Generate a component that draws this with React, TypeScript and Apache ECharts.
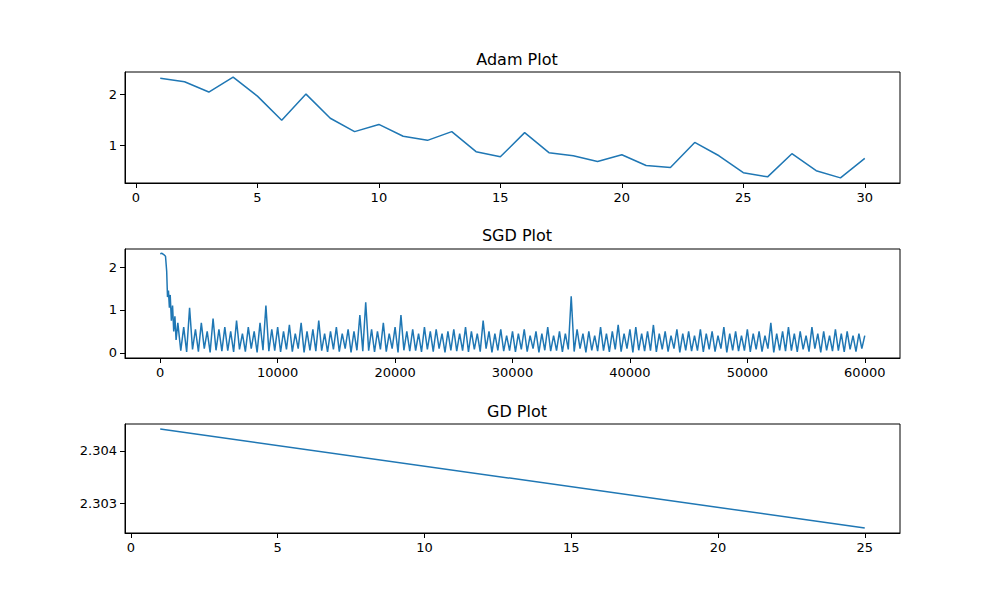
import { useEffect, useRef } from 'react';
import * as echarts from 'echarts';

const adamEpochs = Array.from({ length: 30 }, (_, i) => i + 1);
const adamLoss = [
  2.31, 2.24, 2.04, 2.33, 1.96, 1.49, 2.0, 1.53, 1.27, 1.41, 1.18, 1.1, 1.27, 0.88, 0.78,
  1.25, 0.86, 0.8, 0.69, 0.82, 0.61, 0.57, 1.06, 0.8, 0.47, 0.39, 0.84, 0.51, 0.37, 0.75,
];

// first steps of SGD, read point by point
const sgdStart: [number, number][] = [
  [0, 2.31], [150, 2.32], [300, 2.29], [450, 2.25], [550, 1.9], [620, 1.3], [700, 1.45],
  [780, 1.05], [850, 1.35], [950, 0.75], [1050, 1.1], [1150, 0.5], [1250, 0.85], [1350, 0.3],
];
// SGD spikes every 500 steps from 1500, with a trough after each
const sgdPeakStart = 1500;
const sgdPeakStep = 500;
const sgdPeaks = [
  0.7, 0.6, 1.05, 0.55, 0.7, 0.5, 0.8, 0.55, 0.6, 0.5, 0.75, 0.45, 0.6, 0.5, 0.7, 1.1,
  0.55, 0.6, 0.5, 0.65, 0.45, 0.7, 0.5, 0.55, 0.75, 0.45, 0.5, 0.6, 0.45, 0.55, 0.5, 0.88,
  1.18, 0.55, 0.5, 0.7, 0.45, 0.6, 0.88, 0.5, 0.55, 0.45, 0.6, 0.5, 0.55, 0.45, 0.5, 0.55,
  0.45, 0.6, 0.5, 0.45, 0.75, 0.5, 0.45, 0.55, 0.4, 0.5, 0.45, 0.55, 0.4, 0.5, 0.45, 0.6,
  0.4, 0.5, 0.45, 1.32, 0.55, 0.45, 0.5, 0.4, 0.6, 0.45, 0.5, 0.65, 0.45, 0.55, 0.6, 0.45,
  0.5, 0.65, 0.45, 0.5, 0.4, 0.55, 0.45, 0.5, 0.4, 0.55, 0.45, 0.5, 0.4, 0.6, 0.45, 0.5,
  0.4, 0.55, 0.45, 0.5, 0.4, 0.7, 0.45, 0.5, 0.6, 0.45, 0.5, 0.4, 0.6, 0.45, 0.5, 0.4,
  0.55, 0.45, 0.5, 0.4, 0.45, 0.4, 0.45,
];
const sgdTroughs = [0.05, 0.02, 0.08, 0.03, 0.1, 0.01, 0.06, 0.04];
const sgdLastStep = 60000;

const gdEpochs = [1, 25];
const gdLoss = [2.30442, 2.30253];

const blue = '#1f77b4';
const font = "'DejaVu Sans', sans-serif";

export default function App() {
  const ref = useRef<HTMLDivElement>(null);

  useEffect(() => {
    if (!ref.current) return;
    const chart = echarts.init(ref.current, null, { renderer: 'svg' });

    const sgdData: [number, number][] = [...sgdStart];
    sgdPeaks.forEach((p, i) => {
      const x = sgdPeakStart + i * sgdPeakStep;
      if (x <= sgdLastStep) sgdData.push([x, p]);
      const tx = x + sgdPeakStep / 2;
      if (tx <= sgdLastStep) sgdData.push([tx, sgdTroughs[i % sgdTroughs.length]]);
    });

    const grids = [
      { top: 72, height: 111 },
      { top: 249, height: 109 },
      { top: 424, height: 109 },
    ].map((g) => ({
      left: 125,
      width: 775,
      ...g,
      show: true,
      borderColor: '#000',
      borderWidth: 1,
    }));

    const axisBase = (gridIndex: number, min: number, max: number, ticks: number[], fmt?: (v: number) => string) => ({
      type: 'value',
      gridIndex,
      min,
      max,
      splitLine: { show: false },
      axisLine: { show: true, onZero: false, lineStyle: { color: '#000', width: 1 } },
      axisTick: { show: true, inside: false, length: 5, customValues: ticks, lineStyle: { color: '#000' } },
      axisLabel: {
        customValues: ticks,
        color: '#000',
        fontSize: 13,
        fontFamily: font,
        formatter: fmt ?? ((v: number) => String(v)),
      },
    });

    const titles = ['Adam Plot', 'SGD Plot', 'GD Plot'].map((t, i) => ({
      text: t,
      left: 512,
      textAlign: 'center',
      top: [46, 222, 398][i],
      textStyle: { fontSize: 16, fontWeight: 'normal', color: '#000', fontFamily: font },
    }));

    const line = (xi: number, data: any) => ({
      type: 'line',
      xAxisIndex: xi,
      yAxisIndex: xi,
      data,
      symbol: 'none',
      lineStyle: { color: blue, width: 1.5 },
    });

    chart.setOption({
      animation: false,
      backgroundColor: '#fff',
      title: titles,
      grid: grids,
      xAxis: [
        axisBase(0, -0.45, 31.45, [0, 5, 10, 15, 20, 25, 30]),
        axisBase(1, -3000, 63000, [0, 10000, 20000, 30000, 40000, 50000, 60000]),
        axisBase(2, -0.2, 26.2, [0, 5, 10, 15, 20, 25]),
      ],
      yAxis: [
        axisBase(0, 0.27, 2.43, [1, 2]),
        axisBase(1, -0.12, 2.42, [0, 1, 2]),
        axisBase(2, 2.302435, 2.304515, [2.303, 2.304], (v) => v.toFixed(3)),
      ],
      series: [
        line(0, adamEpochs.map((e, i) => [e, adamLoss[i]])),
        line(1, sgdData),
        line(2, gdEpochs.map((e, i) => [e, gdLoss[i]])),
      ],
    });

    return () => chart.dispose();
  }, []);

  return <div ref={ref} style={{ position: 'absolute', left: 0, top: 0, width: 1000, height: 600 }} />;
}
